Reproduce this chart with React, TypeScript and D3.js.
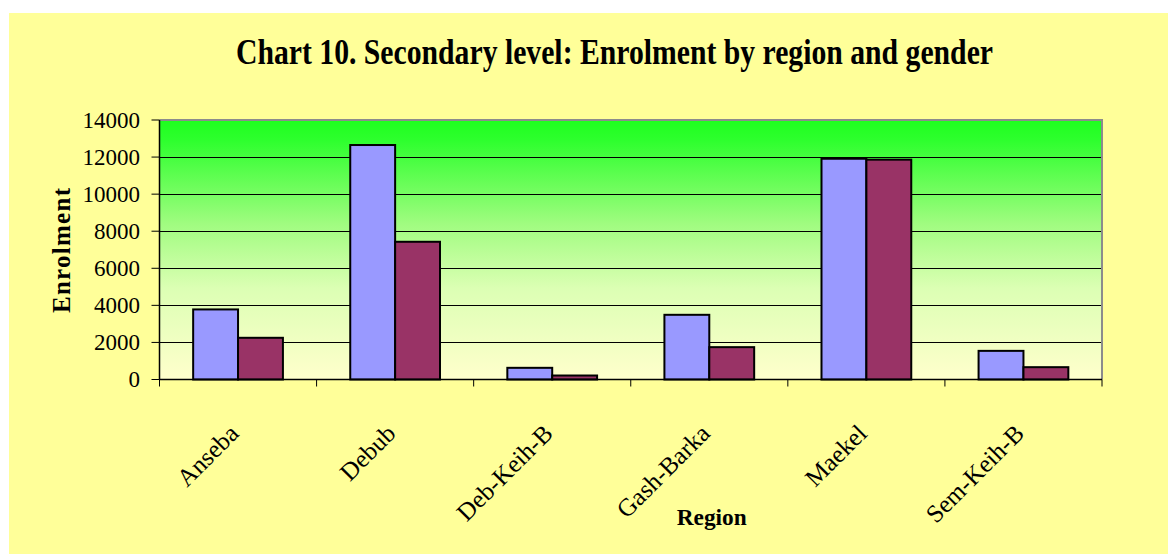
import React from "react";
import * as d3 from "d3";

const regions = ["Anseba", "Debub", "Deb-Keih-B", "Gash-Barka", "Maekel", "Sem-Keih-B"];
const seriesNames = ["Male", "Female"];
const maleValues = [3780, 12650, 630, 3490, 11910, 1545];
const femaleValues = [2250, 7430, 215, 1745, 11860, 665];
const yTicks = [0, 2000, 4000, 6000, 8000, 10000, 12000, 14000];
const seriesColors = ["#9999FF", "#993366"];

const W = 1168;
const H = 554;
const plot = { left: 159.5, right: 1102, top: 120, bottom: 379.5 };

export default function App() {
  const x = d3.scaleBand<string>().domain(regions).range([plot.left, plot.right]).padding(0);
  const inner = d3
    .scaleBand<string>()
    .domain(seriesNames)
    .range([0, x.step()])
    .paddingInner(0)
    .paddingOuter(0.75);
  const y = d3.scaleLinear().domain([0, 14000]).range([plot.bottom, plot.top]);
  const series = [maleValues, femaleValues];
  const font = "'Liberation Serif', 'Times New Roman', serif";
  const boundaries = regions.map((r) => x(r) as number).concat([plot.right]);

  return (
    <svg
      width={W}
      height={H}
      style={{ position: "absolute", left: 0, top: 0, display: "block" }}
      fontFamily={font}
    >
      <defs>
        <linearGradient id="plotGrad" x1="0" y1="0" x2="0" y2="1">
          <stop offset="0" stopColor="#1EFF1E" />
          <stop offset="0.08" stopColor="#2EFF2E" />
          <stop offset="0.4" stopColor="#A0FC80" />
          <stop offset="0.65" stopColor="#DCFFB4" />
          <stop offset="1" stopColor="#FFFFCC" />
        </linearGradient>
      </defs>
      <rect x={9} y={13} width={W - 9} height={H - 13} fill="#FFFF99" />
      <text
        x={614.5}
        y={64}
        textAnchor="middle"
        fontSize={35}
        fontWeight="bold"
        textLength={757}
        lengthAdjust="spacingAndGlyphs"
      >
        Chart 10. Secondary level: Enrolment by region and gender
      </text>

      <rect
        x={plot.left}
        y={plot.top}
        width={plot.right - plot.left}
        height={plot.bottom - plot.top}
        fill="url(#plotGrad)"
      />
      {yTicks
        .filter((t) => t > 0 && t < 14000)
        .map((t) => (
          <line
            key={"g" + t}
            x1={plot.left}
            x2={plot.right}
            y1={Math.round(y(t)) + 0.5}
            y2={Math.round(y(t)) + 0.5}
            stroke="#000"
            strokeWidth={1}
          />
        ))}
      <polyline
        points={`${plot.left},${plot.top} ${plot.right},${plot.top} ${plot.right},${plot.bottom}`}
        fill="none"
        stroke="#8C8C8C"
        strokeWidth={2}
      />

      {regions.map((r, i) =>
        series.map((vals, s) => {
          const bx = (x(r) as number) + (inner(seriesNames[s]) as number);
          return (
            <rect
              key={r + s}
              x={bx}
              y={y(vals[i])}
              width={inner.bandwidth()}
              height={plot.bottom - y(vals[i])}
              fill={seriesColors[s]}
              stroke="#000"
              strokeWidth={2}
            />
          );
        })
      )}

      <line x1={plot.left} x2={plot.left} y1={plot.top} y2={plot.bottom} stroke="#000" strokeWidth={1.5} />
      <line x1={plot.left} x2={plot.right} y1={plot.bottom} y2={plot.bottom} stroke="#000" strokeWidth={1.5} />
      {yTicks.map((t) => (
        <g key={"yt" + t}>
          <line x1={plot.left - 8} x2={plot.left} y1={y(t)} y2={y(t)} stroke="#000" strokeWidth={1} />
          <text x={140} y={y(t)} dy="0.34em" textAnchor="end" fontSize={23}>
            {t}
          </text>
        </g>
      ))}
      {boundaries.map((bx, i) => (
        <line key={"xt" + i} x1={bx} x2={bx} y1={plot.bottom} y2={plot.bottom + 7} stroke="#000" strokeWidth={1} />
      ))}
      {regions.map((r) => {
        const cx = (x(r) as number) + x.bandwidth() / 2;
        return (
          <text
            key={"xl" + r}
            transform={`translate(${cx + 2},${435}) rotate(-45)`}
            textAnchor="end"
            fontSize={25}
          >
            {r}
          </text>
        );
      })}

      <text
        transform={`translate(70,250.5) rotate(-90)`}
        textAnchor="middle"
        fontSize={25}
        fontWeight="bold"
        textLength={125}
        lengthAdjust="spacing"
      >
        Enrolment
      </text>
      <text x={711.7} y={525} textAnchor="middle" fontSize={23} fontWeight="bold" textLength={70} lengthAdjust="spacingAndGlyphs">
        Region
      </text>
    </svg>
  );
}
